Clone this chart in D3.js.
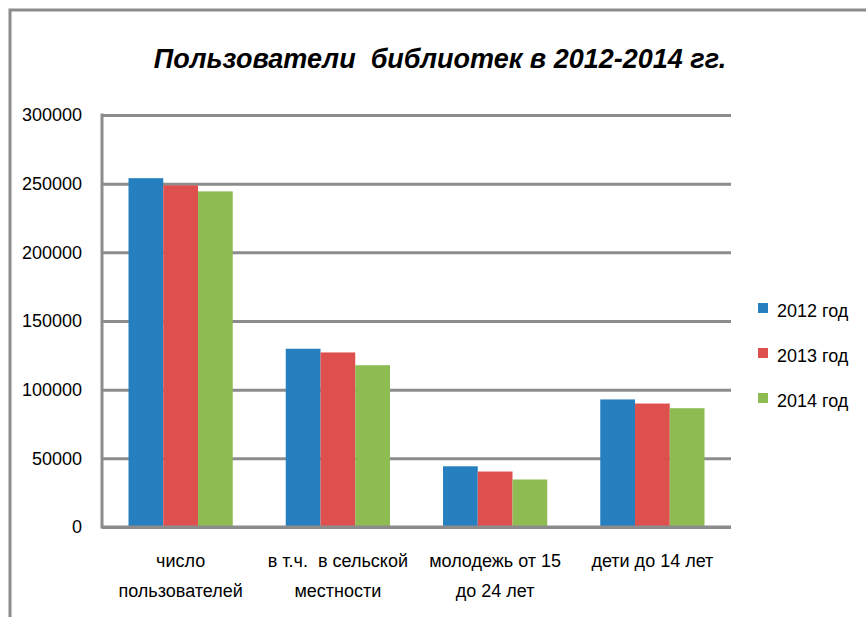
<!DOCTYPE html>
<html>
<head>
<meta charset="utf-8">
<script src="https://cdn.jsdelivr.net/npm/d3@7/dist/d3.min.js"></script>
<style>
  body { margin: 0; background: #fff; }
  svg text { font-family: 'Liberation Sans', Arial, sans-serif; fill: #000; }
</style>
</head>
<body>
<svg class="chart" width="866" height="617"></svg>
<script>
// chart data
const categories = ['число\nпользователей', 'в т.ч.  в сельской\nместности', 'молодежь от 15\nдо 24 лет', 'дети до 14 лет']
const seriesNames = ['2012 год', '2013 год', '2014 год']
const values2012 = [254000, 129800, 44200, 92900]
const values2013 = [248800, 127100, 40400, 89900]
const values2014 = [244400, 117800, 34600, 86500]
const yTicks = [0, 50000, 100000, 150000, 200000, 250000, 300000]
const colors = ['#2680c0', '#de504e', '#8ebc52']

const seriesValues = [values2012, values2013, values2014]

// plot area
const plotLeft = 102
const plotRight = 731
const plotTop = 115
const plotBottom = 527

const svg = d3.select('.chart')

// outer frame (only top and left edges visible)
svg.append('path')
  .attr('d', 'M10,617 V10 H866')
  .attr('fill', 'none')
  .attr('stroke', '#8c8c8c')
  .attr('stroke-width', 3)

// title
svg.append('text')
  .attr('x', 440)
  .attr('y', 68)
  .attr('text-anchor', 'middle')
  .style('white-space', 'pre')
  .style('font-size', '27px')
  .style('font-weight', 'bold')
  .style('font-style', 'italic')
  .text('Пользователи  библиотек в 2012-2014 гг.')

// scales
const y = d3.scaleLinear()
  .domain([0, 300000])
  .range([plotBottom, plotTop])

const x0 = d3.scaleBand()
  .domain(categories)
  .range([plotLeft, plotRight])
  .paddingInner(0.337)
  .paddingOuter(0.1685)

const x1 = d3.scaleBand()
  .domain(d3.range(seriesNames.length))
  .range([0, x0.bandwidth()])

// y axis with gridlines
const yAxis = svg.append('g')
  .attr('transform', 'translate(' + plotLeft + ',0)')
  .call(d3.axisLeft(y).tickValues(yTicks).tickSize(-(plotRight - plotLeft)).tickPadding(20).tickFormat(d3.format('d')))

yAxis.select('.domain')
  .attr('d', 'M0,' + (plotTop - 1.5) + 'V' + (plotBottom + 1.5))
  .attr('stroke', '#8c8c8c')
  .attr('stroke-width', 3)
yAxis.selectAll('.tick line')
  .attr('stroke', '#8c8c8c')
  .attr('stroke-width', 3)
yAxis.selectAll('.tick text')
  .style('font-size', '18px')
  .attr('fill', '#000')

// bars
const groups = svg.append('g').selectAll('g')
  .data(categories)
  .enter().append('g')
    .attr('transform', d => 'translate(' + x0(d) + ',0)')

groups.selectAll('rect')
  .data((d, i) => seriesValues.map((s, k) => ({ k: k, v: s[i] })))
  .enter().append('rect')
    .attr('x', d => x1(d.k))
    .attr('y', d => y(d.v))
    .attr('width', x1.bandwidth())
    .attr('height', d => y(0) - y(d.v))
    .attr('fill', d => colors[d.k])

// redraw baseline over bars
svg.append('line')
  .attr('x1', plotLeft)
  .attr('x2', plotRight)
  .attr('y1', y(0))
  .attr('y2', y(0))
  .attr('stroke', '#8c8c8c')
  .attr('stroke-width', 3)

// category labels
const labels = svg.append('g').selectAll('text')
  .data(categories)
  .enter().append('text')
    .attr('x', d => x0(d) + x0.bandwidth() / 2)
    .attr('y', 567)
    .attr('text-anchor', 'middle')
    .style('white-space', 'pre')
    .style('font-size', '18px')

labels.selectAll('tspan')
  .data(d => d.split('\n'))
  .enter().append('tspan')
    .attr('x', function () { return d3.select(this.parentNode).attr('x') })
    .attr('dy', (d, i) => i === 0 ? 0 : 30)
    .text(d => d)

// legend
const legend = svg.append('g').selectAll('g')
  .data(seriesNames)
  .enter().append('g')
    .attr('transform', (d, i) => 'translate(758,' + (303 + i * 45) + ')')

legend.append('rect')
  .attr('width', 10)
  .attr('height', 10)
  .attr('fill', (d, i) => colors[i])

legend.append('text')
  .attr('x', 19)
  .attr('y', 14)
  .style('font-size', '18px')
  .text(d => d)
</script>
</body>
</html>
